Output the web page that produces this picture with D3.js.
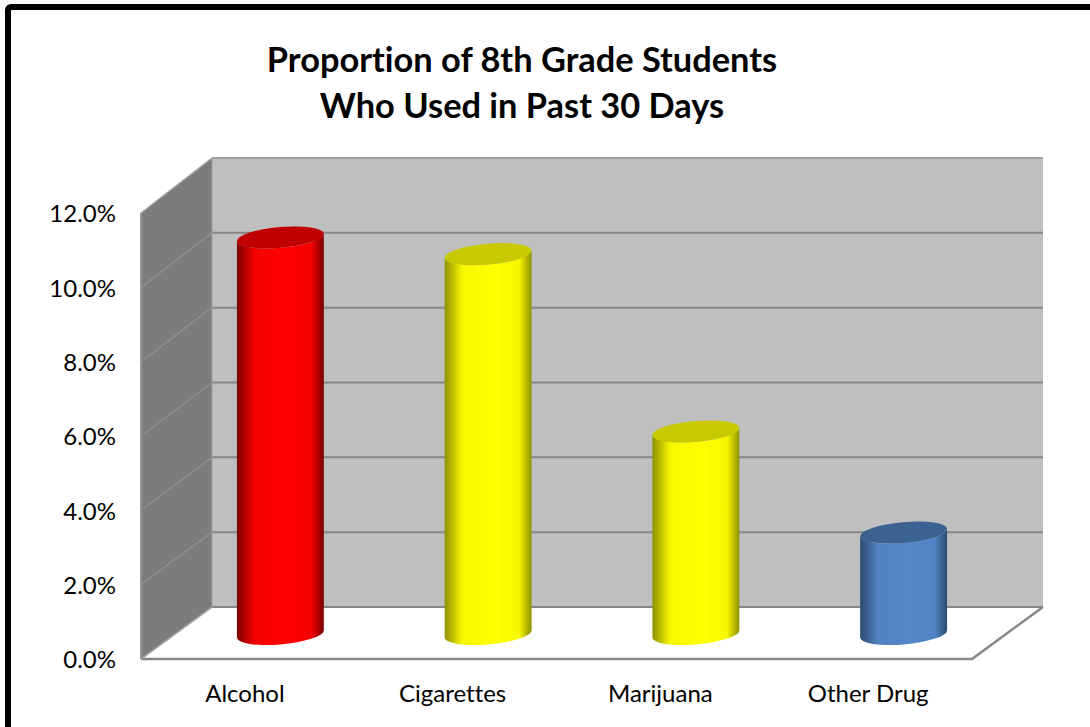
<!DOCTYPE html>
<html>
<head>
<meta charset="utf-8">
<script src="https://cdn.jsdelivr.net/npm/d3@7"></script>
<style>
html, body { margin: 0; padding: 0; background: #fff; overflow: hidden; }
svg { display: block; }
text { font-family: Lato, "Open Sans", sans-serif; font-variant-ligatures: none; fill: #000; }
</style>
</head>
<body>
<div id="chart"></div>
<script>
let title_lines = ["Proportion of 8th Grade Students", "Who Used in Past 30 Days"];
let categories = ["Alcohol", "Cigarettes", "Marijuana", "Other Drug"];
let values = [10.67, 10.22, 5.45, 2.73];
let y_ticks = [0, 2, 4, 6, 8, 10, 12];
let bar_colors = [
    { edge: "#7a0000", light: "#ff0000", top: "#c00000" },
    { edge: "#8f8f00", light: "#ffff00", top: "#c9c900" },
    { edge: "#8f8f00", light: "#ffff00", top: "#c9c900" },
    { edge: "#2c4a70", light: "#5587c9", top: "#3c6292" },
];

let _default = {
    width: 1090,
    height: 727,
    left: 141,
    right: 972,
    bottom: 659,
    top: 213,
    depth_x: 71,
    back_bottom: 607,
    back_top: 158,
    bar_dx: 35.5,
    bar_dy: 25,
    rx: 43.6,
    ry: 10.4,
    tilt: -5,
};

let svg = d3.select("div#chart").append("svg")
    .attr("width", _default.width)
    .attr("height", _default.height);

let x = d3.scaleBand().domain(categories).range([_default.left, _default.right]);
let y = d3.scaleLinear().domain([0, 12]).range([_default.bottom, _default.top]);
let y_back = d3.scaleLinear().domain([0, 12]).range([_default.back_bottom, _default.back_top]);

let dx = _default.depth_x;
let poly = pts => pts.map(p => p.join(",")).join(" ");

// border
svg.append("rect")
    .attr("x", 8).attr("y", 7)
    .attr("width", 1200).attr("height", 900)
    .attr("rx", 3)
    .attr("fill", "white")
    .attr("stroke", "black")
    .attr("stroke-width", 6);

svg.selectAll("text.title").data(title_lines).enter().append("text")
    .attr("class", "title")
    .attr("x", 522)
    .attr("y", (d, i) => 72 + i * 46)
    .attr("text-anchor", "middle")
    .attr("font-size", 34.4)
    .attr("font-weight", 700)
    .text(d => d);

// walls
svg.append("polygon")
    .attr("points", poly([[_default.left + dx, y_back(12)], [_default.right + dx, y_back(12)], [_default.right + dx, y_back(0)], [_default.left + dx, y_back(0)]]))
    .attr("fill", "#bfbfbf");
svg.append("polygon")
    .attr("points", poly([[_default.left, y(12)], [_default.left + dx, y_back(12)], [_default.left + dx, y_back(0)], [_default.left, y(0)]]))
    .attr("fill", "#7c7c7c");

// grid lines on both walls
svg.selectAll("line.grid").data(y_ticks).enter().append("line")
    .attr("class", "grid")
    .attr("x1", _default.left + dx).attr("x2", _default.right + dx)
    .attr("y1", d => y_back(d)).attr("y2", d => y_back(d))
    .attr("stroke", d => d === 12 ? "#a0a0a0" : "#868686")
    .attr("stroke-width", 2);
svg.selectAll("line.side").data(y_ticks).enter().append("line")
    .attr("class", "side")
    .attr("x1", _default.left).attr("x2", _default.left + dx)
    .attr("y1", d => y(d)).attr("y2", d => y_back(d))
    .attr("stroke", d => d === 12 ? "#a6a6a6" : "#8e8e8e")
    .attr("stroke-width", 1.5);
svg.append("line")
    .attr("x1", _default.left + dx).attr("x2", _default.left + dx)
    .attr("y1", y_back(12)).attr("y2", y_back(0))
    .attr("stroke", "#a0a0a0").attr("stroke-width", 1);
svg.append("line")
    .attr("x1", _default.left).attr("x2", _default.left)
    .attr("y1", y(12)).attr("y2", y(0))
    .attr("stroke", "#969696").attr("stroke-width", 2);

// floor edges
svg.append("polyline")
    .attr("points", poly([[_default.left, y(0)], [_default.right, y(0)], [_default.right + dx, y_back(0)]]))
    .attr("fill", "none")
    .attr("stroke", "#868686")
    .attr("stroke-width", 2.5);
svg.append("line")
    .attr("x1", _default.left).attr("x2", _default.left + dx)
    .attr("y1", y(0)).attr("y2", y_back(0))
    .attr("stroke", "#a6a6a6").attr("stroke-width", 1.5);

// horizontal gradients for the cylinder bodies
let defs = svg.append("defs");
bar_colors.forEach((c, i) => {
    let g = defs.append("linearGradient").attr("id", `body${i}`);
    g.append("stop").attr("offset", "0%").attr("stop-color", c.edge);
    g.append("stop").attr("offset", "20%").attr("stop-color", d3.interpolateRgb(c.edge, c.light)(0.92));
    g.append("stop").attr("offset", "58%").attr("stop-color", c.light);
    g.append("stop").attr("offset", "86%").attr("stop-color", d3.interpolateRgb(c.edge, c.light)(0.92));
    g.append("stop").attr("offset", "100%").attr("stop-color", c.edge);
});

// x / y extremes of the tilted ellipse
let r = _default.tilt * Math.PI / 180;
let half_w = Math.sqrt(Math.pow(_default.rx * Math.cos(r), 2) + Math.pow(_default.ry * Math.sin(r), 2));
let tang_y = (Math.pow(_default.rx, 2) - Math.pow(_default.ry, 2)) * Math.sin(r) * Math.cos(r) / half_w;

let bars = svg.selectAll("g.bar").data(categories).enter().append("g").attr("class", "bar")
    .attr("transform", d => `translate(${x(d) + x.bandwidth() / 2 + _default.bar_dx}, 0)`);

let arc = `A${_default.rx} ${_default.ry} ${_default.tilt}`;
bars.append("path")
    .attr("fill", (d, i) => `url(#body${i})`)
    .attr("d", (d, i) => {
        let top = y(values[i]) - _default.bar_dy;
        let base = y(0) - _default.bar_dy;
        return `M${-half_w} ${top - tang_y}L${-half_w} ${base - tang_y}`
            + `${arc} 0 0 ${half_w} ${base + tang_y}`
            + `L${half_w} ${top + tang_y}`
            + `${arc} 0 1 ${-half_w} ${top - tang_y}Z`;
    });
bars.append("ellipse")
    .attr("rx", _default.rx)
    .attr("ry", _default.ry)
    .attr("transform", (d, i) => `translate(0, ${y(values[i]) - _default.bar_dy}) rotate(${_default.tilt})`)
    .attr("fill", (d, i) => bar_colors[i].top);

// axes, labels only
let y_axis = svg.append("g")
    .attr("transform", "translate(116, 1)")
    .call(d3.axisLeft(y).tickValues(y_ticks).tickSize(0).tickPadding(0).tickFormat(d => d.toFixed(1) + "%"));
let x_axis = svg.append("g")
    .attr("transform", "translate(0, 685)")
    .call(d3.axisBottom(x).tickSize(0).tickPadding(0));
[y_axis, x_axis].forEach(a => {
    a.select(".domain").remove();
    a.selectAll("text").attr("font-size", 24).style("font-family", "Lato, 'Open Sans', sans-serif").attr("fill", "#000");
});
</script>
</body>
</html>
